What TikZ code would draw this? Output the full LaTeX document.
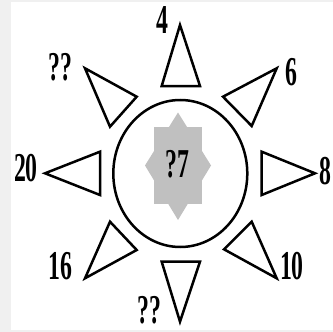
\documentclass[tikz,border=0pt]{standalone}
\usepackage{fontspec}
\setmainfont{Liberation Serif}
\definecolor{bggray}{RGB}{240,240,240}
\definecolor{stargray}{RGB}{192,192,192}
\tikzset{
  ray/.style={draw=black, line width=2.5pt, fill=white, line join=miter},
  lab/.style={inner sep=0pt, font=\fontsize{41}{41}\selectfont\bfseries},
}
\newcommand{\nar}[1]{\scalebox{0.58}[1]{#1}}
\begin{document}
\begin{tikzpicture}[x=1pt,y=-1pt]
\useasboundingbox (0,0) rectangle (333,332);
\fill[bggray] (0,0) rectangle (333,332);
\fill[white] (11,2) rectangle (333,330);
% rays
\draw[ray] (180,25) -- (161.7,86) -- (200,86) -- cycle;
\draw[ray] (276.7,68.3) -- (223,96.7) -- (251.7,126) -- cycle;
\draw[ray] (261.7,151.7) -- (261.7,195) -- (315,173.3) -- cycle;
\draw[ray] (276.7,278.3) -- (224,249.3) -- (251.7,221.7) -- cycle;
\draw[ray] (161.7,261.7) -- (200,261.7) -- (180,321.7) -- cycle;
\draw[ray] (85,278.3) -- (110,221.7) -- (136.7,250) -- cycle;
\draw[ray] (100,151.7) -- (100,195) -- (45,173.3) -- cycle;
\draw[ray] (85,68.3) -- (136.7,96.7) -- (110,126.7) -- cycle;
% circle
\draw[line width=2.5pt] (180.3,173.5) ellipse [x radius=67, y radius=73.5];
% gray star
\fill[stargray] (154,126.5) rectangle (201.5,204);
\fill[stargray] (178,112.5) -- (211,165.5) -- (178,220) -- (145,165.5) -- cycle;
% labels
\node[lab] (l4) at (162,20) {\nar{4}};
\node[lab] (l6) at (291.5,72) {\nar{6}};
\node[lab] (l8) at (325,171) {\nar{8}};
\node[lab] (l10) at (292,266.5) {\nar{10}};
\node[lab] (lqb) at (149.5,310) {\nar{??}};
\node[lab] (l16) at (60.5,266.5) {\nar{16}};
\node[lab] (l20) at (26,168) {\nar{20}};
\node[lab] (lqt) at (60.5,67.5) {\nar{??}};
\node[lab] (lc) at (177.5,164) {\nar{?7}};
\end{tikzpicture}
\end{document}
